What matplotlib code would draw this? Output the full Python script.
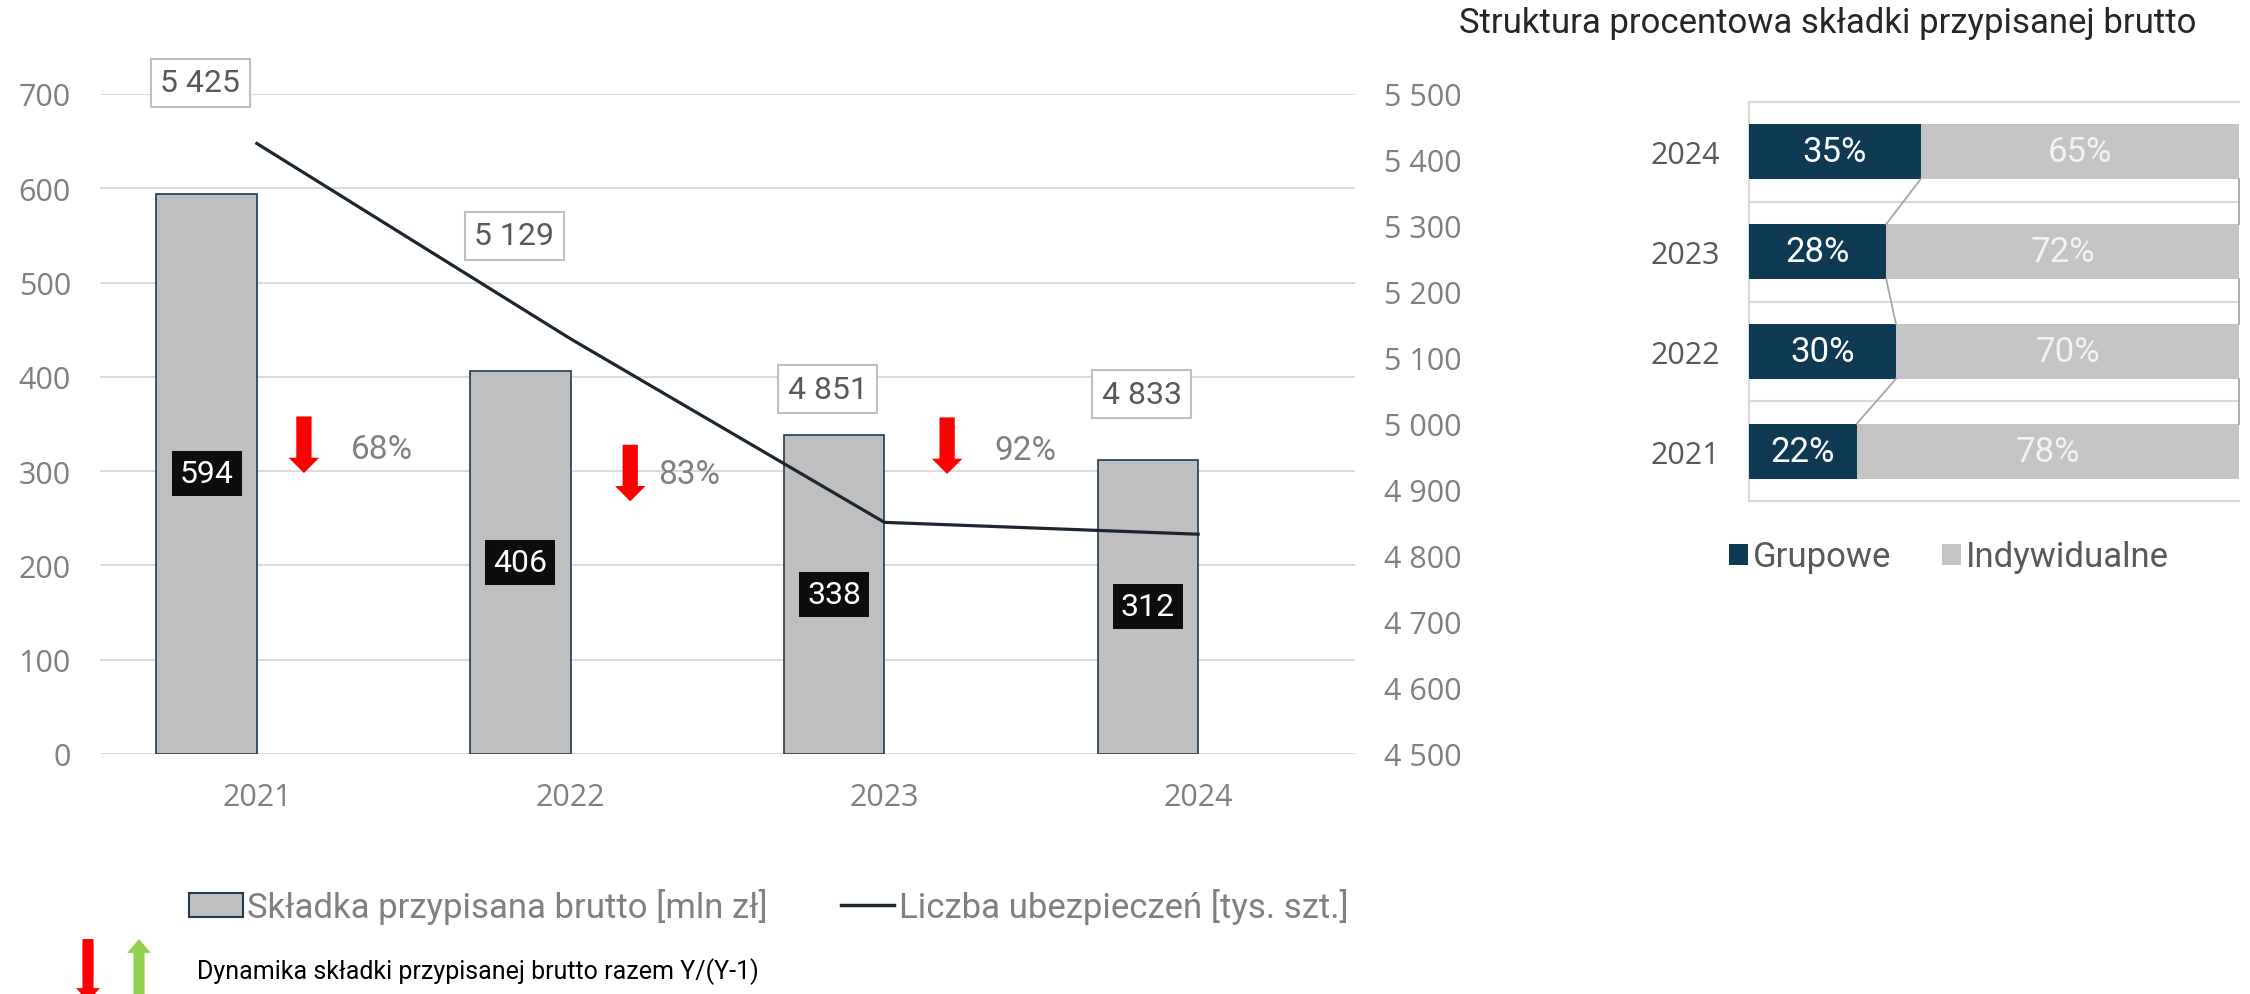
import numpy as np
import matplotlib
matplotlib.use("Agg")
import matplotlib.pyplot as plt
from matplotlib.patches import Patch
from matplotlib.lines import Line2D
from matplotlib.ticker import FuncFormatter

plt.rcParams['font.family'] = ['Open Sans', 'DejaVu Sans']
NARROW = ['Liberation Sans Narrow', 'Roboto', 'DejaVu Sans']

# dane
years = ['2021', '2022', '2023', '2024']
skladka = [594, 406, 338, 312]            # mln zł
liczba = [5425, 5129, 4851, 4833]         # tys. szt.
grupowe = [22, 30, 28, 35]                # %
indywidualne = [78, 70, 72, 65]           # %

# polozenie opisow
lbl_y = [5517, 5285, 5053, 5045]          # ramki z liczba ubezpieczen (os prawa)
arrow_dx = [0.15, 0.19, 0.20]
arrow_top = [358, 328, 357]
pct_dx = [0.30, 0.28, 0.35]
pct_y = [324, 297, 322]

GREY_TXT = '#808080'
DARK_TXT = '#595959'
NAVY = '#0E3A54'


def spaced(v):
    return f"{int(round(v)):,}".replace(',', ' ')


fig = plt.figure(figsize=(22.5, 9.95), dpi=100)
W, H = 2250, 995

# ---- wykres lewy: skladka + liczba ubezpieczen
ax = fig.add_axes([100 / W, 1 - 755 / H, 1255 / W, 660 / H])
ax2 = ax.twinx()
x = np.arange(len(years))

ax.bar(x - 0.16, skladka, width=0.32, color='#BFBFBF', edgecolor='#1F3B52',
       linewidth=1.2, zorder=2)
ax.set_xlim(-0.5, 3.5)
ax.set_ylim(0, 700)
ax.set_yticks(range(0, 701, 100))
ax.yaxis.grid(True, color='#D9D9D9', linewidth=1.3)
ax.set_axisbelow(True)
ax.set_xticks(x)
ax.set_xticklabels(years)
ax.tick_params(axis='y', length=0, pad=21, labelsize=22, labelcolor=GREY_TXT)
ax.tick_params(axis='x', length=0, pad=20, labelsize=22, labelcolor=GREY_TXT)

for i, v in enumerate(skladka):
    ax.text(x[i] - 0.16, v / 2, str(v), ha='center', va='center', fontsize=23,
            color='white', family=NARROW, zorder=4,
            bbox=dict(boxstyle='square,pad=0.25', fc='#0D0D0D', ec='none'))

# dynamika rok do roku
for i in range(len(skladka) - 1):
    dyn = skladka[i + 1] / skladka[i]
    col = 'red' if dyn < 1 else '#92D050'
    top, tip = (arrow_top[i], arrow_top[i] - 60) if dyn < 1 else (arrow_top[i] - 60, arrow_top[i])
    ax.annotate('', xy=(x[i] + arrow_dx[i], tip), xytext=(x[i] + arrow_dx[i], top),
                arrowprops=dict(arrowstyle='simple,head_width=2.2,head_length=1.1,tail_width=1.1',
                                mutation_scale=10, fc=col, ec='none',
                                shrinkA=0, shrinkB=0), zorder=4)
    ax.text(x[i] + pct_dx[i], pct_y[i], f"{dyn * 100:.0f}%", ha='left', va='center',
            fontsize=24, color=GREY_TXT, family=NARROW)

ax2.plot(x, liczba, color='#1B2631', linewidth=2.3, zorder=3)
ax2.set_ylim(4500, 5500)
ax2.set_yticks(range(4500, 5501, 100))
ax2.yaxis.set_major_formatter(FuncFormatter(lambda v, p: spaced(v)))
ax2.tick_params(axis='y', length=0, pad=21, labelsize=22, labelcolor=GREY_TXT)
for i, v in enumerate(liczba):
    ax2.text(x[i] - 0.18, lbl_y[i], spaced(v), ha='center', va='center', fontsize=23,
             color=DARK_TXT, family=NARROW, clip_on=False,
             bbox=dict(boxstyle='square,pad=0.3', fc='white', ec='#BFBFBF', lw=1.5))

for a in (ax, ax2):
    for s in a.spines.values():
        s.set_visible(False)

leg = fig.legend(handles=[Patch(facecolor='#BFBFBF', edgecolor='#1F3B52', linewidth=1.5,
                                label='Składka przypisana brutto [mln zł]'),
                          Line2D([], [], color='#1B2631', linewidth=2.5,
                                 label='Liczba ubezpieczeń [tys. szt.]')],
                 loc='center left', bbox_to_anchor=(189 / W, 1 - 907 / H), ncol=2,
                 frameon=False, borderpad=0, borderaxespad=0, handlelength=1.55,
                 handletextpad=0.12, columnspacing=2.1,
                 prop=dict(family=NARROW, size=25))
for t in leg.get_texts():
    t.set_color(GREY_TXT)

# objasnienie strzalek
ax.annotate('', xy=(88, -8), xycoords='figure pixels', xytext=(88, 55),
            textcoords='figure pixels', annotation_clip=False,
            arrowprops=dict(arrowstyle='simple,head_width=1.7,head_length=1.0,tail_width=0.8',
                            mutation_scale=10, fc='red', ec='none', shrinkA=0, shrinkB=0))
ax.annotate('', xy=(139, 55), xycoords='figure pixels', xytext=(139, -8),
            textcoords='figure pixels', annotation_clip=False,
            arrowprops=dict(arrowstyle='simple,head_width=1.7,head_length=1.0,tail_width=0.8',
                            mutation_scale=10, fc='#92D050', ec='none', shrinkA=0, shrinkB=0))
fig.text(197 / W, 1 - 972 / H, 'Dynamika składki przypisanej brutto razem Y/(Y-1)',
         ha='left', va='center', fontsize=18, color='black', family=NARROW)

# ---- wykres prawy: struktura procentowa
ax3 = fig.add_axes([1749 / W, 1 - 502 / H, 490 / W, 399 / H])
y = np.arange(len(years))
ax3.barh(y, grupowe, height=0.55, color=NAVY, zorder=2)
ax3.barh(y, indywidualne, left=grupowe, height=0.55, color='#C4C4C4', zorder=2)
ax3.set_xlim(0, 100)
ax3.set_ylim(-0.5, 3.5)
for b in np.arange(-0.5, 3.6, 1.0):
    ax3.axhline(b, color='#D9D9D9', linewidth=1.5, clip_on=False, zorder=1)
ax3.axvline(0, color='#D9D9D9', linewidth=1.5, clip_on=False, zorder=1)

# linie serii miedzy slupkami
for i in range(len(years) - 1):
    ax3.plot([grupowe[i], grupowe[i + 1]], [i + 0.275, i + 1 - 0.275],
             color='#A6A6A6', linewidth=1.3, zorder=3)
    ax3.plot([100, 100], [i + 0.275, i + 1 - 0.275],
             color='#A6A6A6', linewidth=1.3, zorder=3, clip_on=False)

for i in range(len(years)):
    ax3.text(grupowe[i] / 2, y[i], f"{grupowe[i]}%", ha='center', va='center',
             fontsize=25, color='white', family=NARROW, zorder=4)
    ax3.text(grupowe[i] + indywidualne[i] / 2, y[i], f"{indywidualne[i]}%", ha='center',
             va='center', fontsize=25, color='#F2F2F2', family=NARROW, zorder=4)

ax3.set_yticks(y)
ax3.set_yticklabels(years)
ax3.set_xticks([])
ax3.tick_params(axis='y', length=0, pad=21, labelsize=22, labelcolor=DARK_TXT)
for s in ax3.spines.values():
    s.set_visible(False)

leg2 = fig.legend(handles=[Patch(facecolor=NAVY, label='Grupowe'),
                           Patch(facecolor='#C4C4C4', label='Indywidualne')],
                  loc='center left', bbox_to_anchor=(1729 / W, 1 - 558 / H), ncol=2,
                  frameon=False, borderpad=0, borderaxespad=0, handlelength=0.55,
                  handleheight=0.55, handletextpad=0.15, columnspacing=1.45,
                  prop=dict(family=NARROW, size=25))
for t in leg2.get_texts():
    t.set_color(DARK_TXT)

fig.text(1459 / W, 1 - 24 / H, 'Struktura procentowa składki przypisanej brutto',
         ha='left', va='center', fontsize=25, color='#262626', family=NARROW)

fig.savefig('out.png', dpi=100, facecolor='white')
